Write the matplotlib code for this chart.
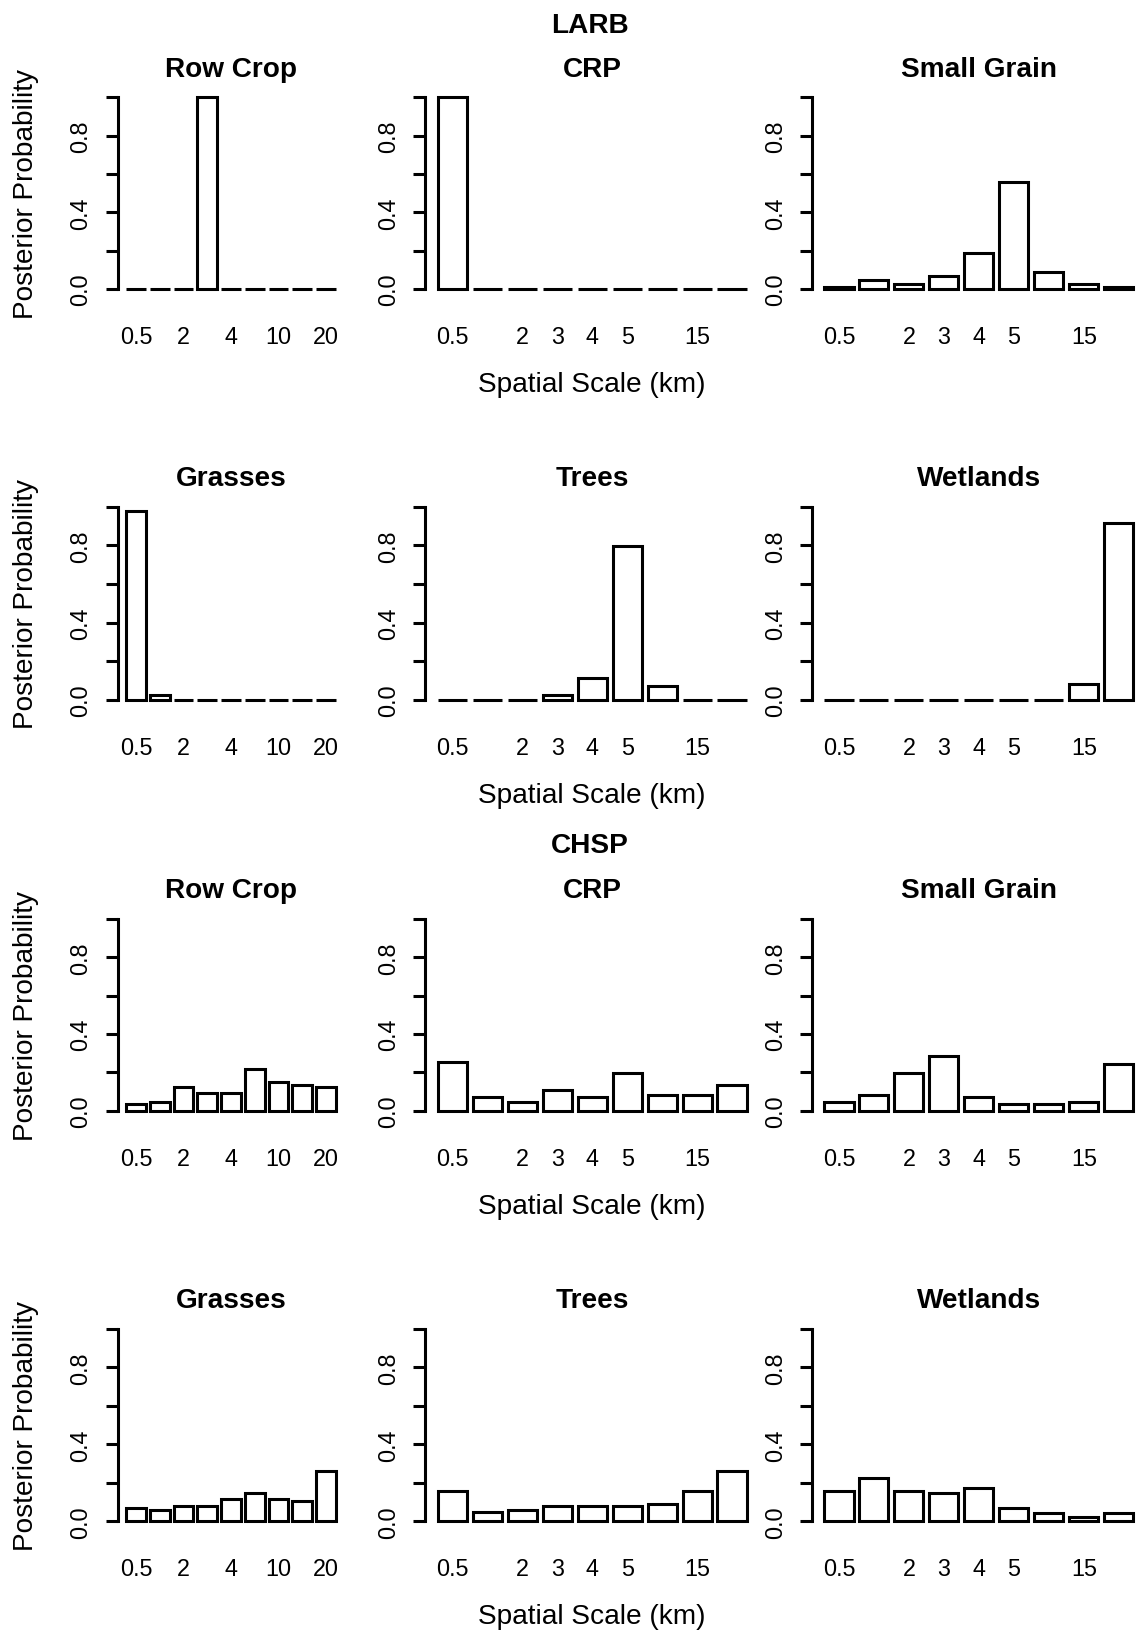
import numpy as np
import matplotlib
matplotlib.use("Agg")
import matplotlib.pyplot as plt

plt.rcParams.update({"font.family": ["Liberation Sans", "DejaVu Sans"]})

# spatial scales (km) of the 9 bars
scales = ["0.5", "1", "2", "3", "4", "5", "10", "15", "20"]
# labels R left visible (narrow first column vs. wider columns)
labels_narrow = ["0.5", "", "2", "", "4", "", "10", "", "20"]
labels_wide = ["0.5", "", "2", "3", "4", "5", "", "15", ""]

groups = ["LARB", "CHSP"]
landcover = [["Row Crop", "CRP", "Small Grain"], ["Grasses", "Trees", "Wetlands"]]

# posterior probabilities, LARB
larb_row_crop = [0, 0, 0, 1.0, 0, 0, 0, 0, 0]
larb_crp = [1.0, 0, 0, 0, 0, 0, 0, 0, 0]
larb_small_grain = [0.01, 0.049, 0.026, 0.07, 0.19, 0.556, 0.09, 0.026, 0.012]
larb_grasses = [0.978, 0.026, 0, 0, 0, 0, 0, 0, 0]
larb_trees = [0, 0, 0, 0.026, 0.115, 0.798, 0.07, 0, 0]
larb_wetlands = [0, 0, 0, 0, 0, 0, 0, 0.081, 0.915]

# posterior probabilities, CHSP
chsp_row_crop = [0.035, 0.047, 0.125, 0.09, 0.09, 0.217, 0.151, 0.136, 0.125]
chsp_crp = [0.252, 0.07, 0.047, 0.108, 0.07, 0.195, 0.082, 0.082, 0.136]
chsp_small_grain = [0.047, 0.082, 0.195, 0.283, 0.07, 0.035, 0.035, 0.047, 0.243]
chsp_grasses = [0.071, 0.059, 0.078, 0.078, 0.116, 0.146, 0.116, 0.104, 0.262]
chsp_trees = [0.159, 0.047, 0.059, 0.078, 0.078, 0.078, 0.09, 0.159, 0.26]
chsp_wetlands = [0.159, 0.225, 0.159, 0.147, 0.172, 0.071, 0.043, 0.024, 0.043]

panels = [
    [larb_row_crop, larb_crp, larb_small_grain],
    [larb_grasses, larb_trees, larb_wetlands],
    [chsp_row_crop, chsp_crp, chsp_small_grain],
    [chsp_grasses, chsp_trees, chsp_wetlands],
]

W, H = 1141, 1633
fig = plt.figure(figsize=(W / 100, H / 100), dpi=100)

# layout in pixels
col_lr = [(117.6, 344.4), (425.3, 759.0), (812.0, 1145.7)]
row_zero = [290.0, 701.0, 1111.7, 1522.3]
row_one = [98.3, 507.7, 920.0, 1330.0]

LW = 2.2
TICK = 16.8
LAB = 20.2

x = 0.7 + 1.2 * np.arange(len(scales))  # R barplot bar centres

for r in range(4):
    unit = row_zero[r] - row_one[r]
    top = row_one[r] - 0.04 * unit
    bot = row_zero[r] + 0.04 * unit
    for c in range(3):
        l, rt = col_lr[c]
        ax = fig.add_axes([l / W, 1 - bot / H, (rt - l) / W, (bot - top) / H])
        ax.patch.set_alpha(0)
        ax.bar(x, panels[r][c], width=1.0, facecolor="white", edgecolor="black",
               linewidth=LW)
        ax.set_xlim(-0.224, 11.224)
        ax.set_ylim(-0.04, 1.04)
        for s in ["top", "right", "bottom"]:
            ax.spines[s].set_visible(False)
        ax.spines["left"].set_bounds(0, 1)
        ax.spines["left"].set_linewidth(LW)
        ax.set_yticks(np.arange(0, 1.01, 0.2))
        ax.set_yticklabels(["0.0", "", "0.4", "", "0.8", ""], rotation=90,
                           va="center", fontsize=TICK)
        ax.tick_params(axis="y", length=8.6, width=LW, pad=9.5)
        ax.set_xticks(x)
        ax.set_xticklabels(labels_narrow if c == 0 else labels_wide, fontsize=TICK)
        ax.tick_params(axis="x", length=0, pad=20.5)
        ax.set_title(landcover[r % 2][c], fontsize=LAB, fontweight="bold", pad=10)

        if c == 0:
            fig.text(26 / W, 1 - (row_zero[r] + row_one[r]) / 2 / H,
                     "Posterior Probability", rotation=90, ha="center",
                     va="center", fontsize=LAB)
        if c == 1:
            fig.text((l + rt) / 2 / W, 1 - (row_zero[r] + 102) / H,
                     "Spatial Scale (km)", ha="center", va="baseline", fontsize=LAB)

fig.text(590 / W, 1 - 33 / H, groups[0], ha="center", va="baseline",
         fontsize=LAB, fontweight="bold")
fig.text(590 / W, 1 - 853 / H, groups[1], ha="center", va="baseline",
         fontsize=LAB, fontweight="bold")

fig.savefig("out.png", dpi=100, facecolor="white")
